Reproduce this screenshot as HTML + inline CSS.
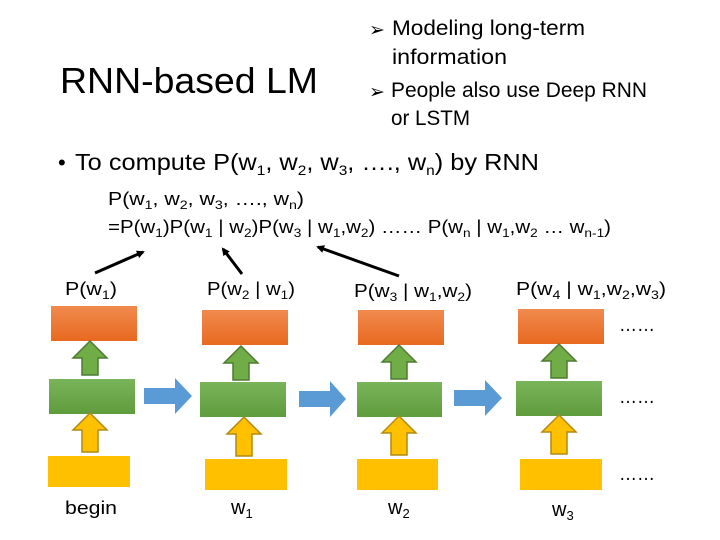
<!DOCTYPE html>
<html><head><meta charset="utf-8"><style>
html,body{margin:0;padding:0;background:#fff;}
svg{display:block;font-family:"Liberation Sans",sans-serif;}
</style></head><body>
<svg width="720" height="540" viewBox="0 0 720 540" xmlns="http://www.w3.org/2000/svg">
<defs>
<linearGradient id="og" x1="0" y1="0" x2="0" y2="1"><stop offset="0" stop-color="#f08a4e"/><stop offset="1" stop-color="#e8691f"/></linearGradient>
<linearGradient id="gg" x1="0" y1="0" x2="0" y2="1"><stop offset="0" stop-color="#7ab45a"/><stop offset="1" stop-color="#5f9c3d"/></linearGradient>
<marker id="ah" markerWidth="8" markerHeight="8" refX="6" refY="4" orient="auto" markerUnits="userSpaceOnUse"><path d="M0,0 L8,4 L0,8 z" fill="#000"/></marker>
</defs>
<g fill="#000">
<text x="60" y="93" font-size="36" textLength="258" lengthAdjust="spacingAndGlyphs">RNN-based LM</text>
<text x="369" y="36" font-size="19">➢</text>
<text x="392" y="35" font-size="21" textLength="193" lengthAdjust="spacingAndGlyphs">Modeling long-term</text>
<text x="392" y="64" font-size="21" textLength="115" lengthAdjust="spacingAndGlyphs">information</text>
<text x="369" y="98" font-size="19">➢</text>
<text x="391" y="97" font-size="21" textLength="256" lengthAdjust="spacingAndGlyphs">People also use Deep RNN</text>
<text x="391" y="125" font-size="21" textLength="79" lengthAdjust="spacingAndGlyphs">or LSTM</text>
<text x="58" y="170" font-size="22">•</text>
<text x="75" y="170" font-size="23" textLength="464" lengthAdjust="spacingAndGlyphs">To compute P(w<tspan font-size="14" dy="5">1</tspan><tspan dy="-5">, w</tspan><tspan font-size="14" dy="5">2</tspan><tspan dy="-5">, w</tspan><tspan font-size="14" dy="5">3</tspan><tspan dy="-5">, …., w</tspan><tspan font-size="14" dy="5">n</tspan><tspan dy="-5">) by RNN</tspan></text>
<text x="108" y="205" font-size="18" textLength="196" lengthAdjust="spacingAndGlyphs">P(w<tspan font-size="12" dy="4">1</tspan><tspan dy="-4">, w</tspan><tspan font-size="12" dy="4">2</tspan><tspan dy="-4">, w</tspan><tspan font-size="12" dy="4">3</tspan><tspan dy="-4">, …., w</tspan><tspan font-size="12" dy="4">n</tspan><tspan dy="-4">)</tspan></text>
<text x="108" y="233" font-size="18" textLength="503" lengthAdjust="spacingAndGlyphs">=P(w<tspan font-size="12" dy="4">1</tspan><tspan dy="-4">)P(w</tspan><tspan font-size="12" dy="4">1</tspan><tspan dy="-4"> | w</tspan><tspan font-size="12" dy="4">2</tspan><tspan dy="-4">)P(w</tspan><tspan font-size="12" dy="4">3</tspan><tspan dy="-4"> | w</tspan><tspan font-size="12" dy="4">1</tspan><tspan dy="-4">,w</tspan><tspan font-size="12" dy="4">2</tspan><tspan dy="-4">) …… P(w</tspan><tspan font-size="12" dy="4">n</tspan><tspan dy="-4"> | w</tspan><tspan font-size="12" dy="4">1</tspan><tspan dy="-4">,w</tspan><tspan font-size="12" dy="4">2</tspan><tspan dy="-4"> … w</tspan><tspan font-size="12" dy="4">n-1</tspan><tspan dy="-4">)</tspan></text>
</g>
<g stroke="#000" stroke-width="3" marker-end="url(#ah)">
<line x1="95" y1="273" x2="143" y2="252"/>
<line x1="242" y1="274" x2="223" y2="249"/>
<line x1="399" y1="276" x2="318" y2="247"/>
</g>
<g font-size="18" fill="#000">
<text x="65" y="295" textLength="52" lengthAdjust="spacingAndGlyphs">P(w<tspan font-size="12" dy="4">1</tspan><tspan dy="-4">)</tspan></text>
<text x="207" y="295" textLength="88" lengthAdjust="spacingAndGlyphs">P(w<tspan font-size="12" dy="4">2</tspan><tspan dy="-4"> | w</tspan><tspan font-size="12" dy="4">1</tspan><tspan dy="-4">)</tspan></text>
<text x="354" y="297" textLength="118" lengthAdjust="spacingAndGlyphs">P(w<tspan font-size="12" dy="4">3</tspan><tspan dy="-4"> | w</tspan><tspan font-size="12" dy="4">1</tspan><tspan dy="-4">,w</tspan><tspan font-size="12" dy="4">2</tspan><tspan dy="-4">)</tspan></text>
<text x="516" y="295" textLength="150" lengthAdjust="spacingAndGlyphs">P(w<tspan font-size="12" dy="4">4</tspan><tspan dy="-4"> | w</tspan><tspan font-size="12" dy="4">1</tspan><tspan dy="-4">,w</tspan><tspan font-size="12" dy="4">2</tspan><tspan dy="-4">,w</tspan><tspan font-size="12" dy="4">3</tspan><tspan dy="-4">)</tspan></text>
<text x="65" y="514" textLength="52" lengthAdjust="spacingAndGlyphs">begin</text>
<text x="231" y="514" font-size="20">w<tspan font-size="13" dy="4">1</tspan></text>
<text x="388" y="514" font-size="20">w<tspan font-size="13" dy="4">2</tspan></text>
<text x="552" y="516" font-size="20">w<tspan font-size="13" dy="4">3</tspan></text>
<text x="619" y="331" font-size="20" textLength="36" lengthAdjust="spacingAndGlyphs">……</text>
<text x="619" y="403" font-size="20" textLength="36" lengthAdjust="spacingAndGlyphs">……</text>
<text x="619" y="480" font-size="20" textLength="36" lengthAdjust="spacingAndGlyphs">……</text>
</g>
<rect x="51" y="306" width="86" height="35" fill="url(#og)"/>
<rect x="202" y="310" width="86" height="35" fill="url(#og)"/>
<rect x="358" y="310" width="86" height="35" fill="url(#og)"/>
<rect x="518" y="309" width="86" height="35" fill="url(#og)"/>
<rect x="49" y="379" width="86" height="35" fill="url(#gg)"/>
<rect x="200" y="382" width="86" height="35" fill="url(#gg)"/>
<rect x="357" y="382" width="85" height="35" fill="url(#gg)"/>
<rect x="516" y="381" width="86" height="35" fill="url(#gg)"/>
<rect x="48" y="456" width="82" height="31" fill="#ffc000"/>
<rect x="205" y="459" width="82" height="31" fill="#ffc000"/>
<rect x="357" y="459" width="81" height="31" fill="#ffc000"/>
<rect x="520" y="459" width="82" height="31" fill="#ffc000"/>
<g fill="#70ad47" stroke="#4e7a32" stroke-width="1.5">
<path d="M82,375 h16 v-17 h9 l-17,-17 l-17,17 h9 z"/>
<path d="M233,380 h16 v-17 h9 l-17,-17 l-17,17 h9 z"/>
<path d="M391,379 h16 v-17 h9 l-17,-17 l-17,17 h9 z"/>
<path d="M551,378 h16 v-17 h9 l-17,-17 l-17,17 h9 z"/>
</g>
<g fill="#ffc000" stroke="#b08a10" stroke-width="1.5">
<path d="M82,452 h16 v-22 h9 l-17,-17 l-17,17 h9 z"/>
<path d="M236,456 h16 v-22 h9 l-17,-17 l-17,17 h9 z"/>
<path d="M391,455 h16 v-22 h9 l-17,-17 l-17,17 h9 z"/>
<path d="M551,454 h16 v-22 h9 l-17,-17 l-17,17 h9 z"/>
</g>
<g fill="#5b9bd5">
<path d="M144,388 h31 v-10 l17,18 l-17,18 v-10 h-31 z"/>
<path d="M299,391 h31 v-10 l16,18 l-16,18 v-10 h-31 z"/>
<path d="M454,390 h31 v-10 l17,18 l-17,18 v-10 h-31 z"/>
</g>
</svg>
</body></html>
